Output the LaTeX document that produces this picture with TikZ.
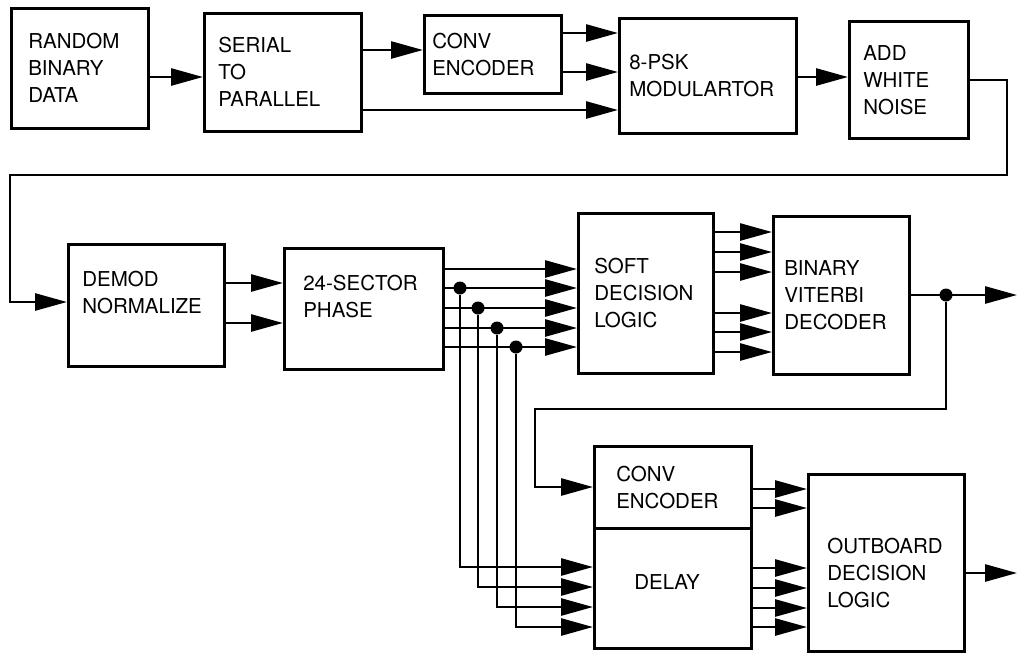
\documentclass[tikz,border=0pt]{standalone}
\usepackage{fontspec}
\setmainfont{TeX Gyre Heros}
\usetikzlibrary{arrows.meta,calc}
\tikzset{
  font={\fontsize{20.5}{27}\selectfont},
  >={Triangle[length=32pt,width=17pt]},
  %% nodes
  blk/.style  = {draw=black, line width=2.6pt, anchor=north west,
                 align=left, inner sep=0pt},
  tap/.style  = {circle, fill=black, inner sep=0pt, minimum size=13pt},
  %% connectors
  wire/.style = {draw=black, line width=2.7pt},
  flow/.style = {->, wire},
}
\begin{document}
\begin{tikzpicture}[x=1pt, y=-1pt]
\useasboundingbox (0,0) rectangle (1019,654);

%% ---- transmitter (top row) ----
\node[blk, minimum width=137pt, minimum height=120pt, text width=103pt] (rbd) at (10,7)
   {RANDOM\\BINARY\\DATA};
\node[blk, minimum width=157pt, minimum height=118pt, text width=129pt] (s2p) at (203,12)
   {SERIAL\\TO\\PARALLEL};
\node[blk, minimum width=137pt, minimum height=78pt, text width=121pt] (enc) at (423,14)
   {CONV\\ENCODER};
\node[blk, minimum width=177pt, minimum height=115pt, text width=157pt] (psk) at (618,17)
   {8-PSK\\MODULARTOR};
\node[blk, minimum width=119pt, minimum height=117pt, text width=91pt] (awn) at (848,20)
   {ADD\\WHITE\\NOISE};

\draw[flow] (rbd.east |- 0,77) -- (s2p.west |- 0,77);
\draw[flow] (s2p.east |- 0,50) -- (enc.west |- 0,50);
\draw[flow] (s2p.east |- 0,110) -- (psk.west |- 0,110);
\draw[flow] (enc.east |- 0,33) -- (psk.west |- 0,33);
\draw[flow] (enc.east |- 0,72) -- (psk.west |- 0,72);
\draw[flow] (psk.east |- 0,77) -- (awn.west |- 0,77);

%% ---- receiver (middle row) ----
\node[blk, minimum width=156pt, minimum height=122pt, text width=128pt] (demod) at (67,243)
   {DEMOD\\NORMALIZE\rule[-26pt]{0pt}{0pt}};
\node[blk, minimum width=159pt, minimum height=121pt, text width=121pt] (sect) at (283,247)
   {24-SECTOR\\PHASE\rule[-24pt]{0pt}{0pt}};
\node[blk, minimum width=135pt, minimum height=160pt, text width=103pt] (sdl) at (577,212)
   {SOFT\\DECISION\\LOGIC};
\node[blk, minimum width=136pt, minimum height=158pt, text width=114pt] (vit) at (772,215)
   {BINARY\\VITERBI\\DECODER};

%% channel output wraps round to the receiver
\draw[flow] (awn.east |- 0,80) -| (1007,175) -| (10,302) -- (demod.west |- 0,302);

\draw[flow] (demod.east |- 0,283) -- (sect.west |- 0,283);
\draw[flow] (demod.east |- 0,323) -- (sect.west |- 0,323);

\draw[flow] (sect.east |- 0,269) -- (sdl.west |- 0,269);
\draw[flow] (sect.east |- 0,288) -- (sdl.west |- 0,288);
\draw[flow] (sect.east |- 0,308) -- (sdl.west |- 0,308);
\draw[flow] (sect.east |- 0,328) -- (sdl.west |- 0,328);
\draw[flow] (sect.east |- 0,347) -- (sdl.west |- 0,347);

\draw[flow] (sdl.east |- 0,232) -- (vit.west |- 0,232);
\draw[flow] (sdl.east |- 0,252) -- (vit.west |- 0,252);
\draw[flow] (sdl.east |- 0,272) -- (vit.west |- 0,272);
\draw[flow] (sdl.east |- 0,313) -- (vit.west |- 0,313);
\draw[flow] (sdl.east |- 0,332) -- (vit.west |- 0,332);
\draw[flow] (sdl.east |- 0,352) -- (vit.west |- 0,352);

\node[tap] (tv) at (946,295) {};
\coordinate (vout) at (1017,295);
\draw[flow] (vit.east |- tv) -- (vout);

%% ---- outboard check (bottom row) ----
\node[blk, minimum width=157pt, minimum height=82pt, text width=113pt] (renc) at (593,445)
   {CONV\\ENCODER};
\node[blk, minimum width=157pt, minimum height=120pt, text width=77pt] (dly) at (593,527)
   {DELAY\rule[-12pt]{0pt}{0pt}};
\node[blk, minimum width=156pt, minimum height=177pt, text width=118pt] (obd) at (807,473)
   {\rule{0pt}{35pt}OUTBOARD\\DECISION\\LOGIC};

\draw[flow] (tv) |- (535,409) |- (renc.west |- 0,487);

%% taps off the phase lines feed the delay
\node[tap] (t1) at (460,288) {};
\node[tap] (t2) at (478,308) {};
\node[tap] (t3) at (497,328) {};
\node[tap] (t4) at (516,347) {};
\draw[flow] (t1) |- (dly.west |- 0,567);
\draw[flow] (t2) |- (dly.west |- 0,587);
\draw[flow] (t3) |- (dly.west |- 0,607);
\draw[flow] (t4) |- (dly.west |- 0,627);

\draw[flow] (renc.east |- 0,489) -- (obd.west |- 0,489);
\draw[flow] (renc.east |- 0,508) -- (obd.west |- 0,508);
\draw[flow] (dly.east |- 0,568) -- (obd.west |- 0,568);
\draw[flow] (dly.east |- 0,588) -- (obd.west |- 0,588);
\draw[flow] (dly.east |- 0,608) -- (obd.west |- 0,608);
\draw[flow] (dly.east |- 0,627) -- (obd.west |- 0,627);

\coordinate (oout) at (1017,573);
\draw[flow] (obd.east |- oout) -- (oout);
\end{tikzpicture}
\end{document}
